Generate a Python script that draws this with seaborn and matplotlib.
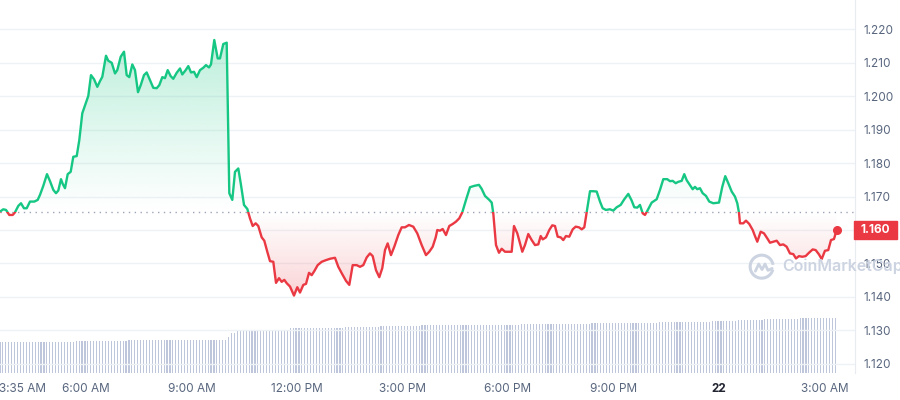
import numpy as np
import matplotlib
matplotlib.use("Agg")
import matplotlib.pyplot as plt
import matplotlib.transforms as mtransforms
import seaborn as sns
from matplotlib.colors import LinearSegmentedColormap, to_rgb
from matplotlib.path import Path
from matplotlib.patches import Rectangle, Arc
from matplotlib.lines import Line2D

sns.set_style("white")
plt.rcParams['font.family'] = ['Inter', 'DejaVu Sans']

# price over the last 24h, x = hours since midnight of the 21st
hours = [
    3.555, 3.649, 3.726, 3.819, 3.916, 3.982, 4.075, 4.152, 4.237, 4.314,
    4.408, 4.530, 4.627, 4.692, 4.786, 4.891, 4.977, 5.071, 5.147, 5.213,
    5.289, 5.338, 5.403, 5.480, 5.565, 5.639, 5.736, 5.810, 5.895, 5.992,
    6.066, 6.142, 6.228, 6.322, 6.398, 6.464, 6.569, 6.634, 6.731, 6.825,
    6.890, 6.987, 7.081, 7.157, 7.231, 7.317, 7.393, 7.479, 7.556, 7.649,
    7.726, 7.820, 7.914, 8.011, 8.084, 8.170, 8.246, 8.323, 8.408, 8.482,
    8.579, 8.673, 8.738, 8.835, 8.909, 8.986, 9.071, 9.148, 9.242, 9.335,
    9.412, 9.497, 9.554, 9.648, 9.745, 9.810, 9.904, 10.001, 10.075,
    10.160, 10.237, 10.331, 10.407, 10.493, 10.587, 10.663, 10.740, 10.825, 10.899,
    10.996, 11.070, 11.155, 11.232, 11.326, 11.403, 11.488, 11.565, 11.639, 11.707,
    11.801, 11.914, 12.008, 12.085, 12.179, 12.256, 12.341, 12.418, 12.491, 12.588,
    12.702, 12.824, 12.938, 13.080, 13.174, 13.271, 13.393, 13.487, 13.583, 13.697,
    13.791, 13.885, 13.982, 14.075, 14.152, 14.246, 14.340, 14.425, 14.502, 14.578,
    14.672, 14.766, 14.880, 14.976, 15.070, 15.184, 15.306, 15.420, 15.545, 15.667,
    15.761, 15.858, 15.944, 15.989, 16.066, 16.142, 16.236, 16.330, 16.427, 16.520,
    16.614, 16.700, 16.805, 16.919, 17.041, 17.174, 17.251, 17.345, 17.467, 17.536,
    17.581, 17.658, 17.743, 17.820, 17.914, 18.008, 18.104, 18.170, 18.264, 18.406,
    18.482, 18.576, 18.673, 18.767, 18.861, 18.929, 18.986, 19.079, 19.173, 19.258,
    19.335, 19.412, 19.498, 19.571, 19.648, 19.742, 19.839, 19.924, 20.018, 20.095,
    20.169, 20.237, 20.331, 20.425, 20.521, 20.615, 20.691, 20.785, 20.899, 20.993,
    21.090, 21.203, 21.306, 21.420, 21.516, 21.590, 21.675, 21.752, 21.829, 21.894,
    21.960, 22.085, 22.227, 22.321, 22.415, 22.528, 22.605, 22.682, 22.767, 22.841,
    22.938, 23.011, 23.080, 23.154, 23.250, 23.316, 23.381, 23.458, 23.535, 23.629,
    23.722, 23.836, 23.999, 24.092, 24.177, 24.263, 24.360, 24.453, 24.519, 24.567,
    24.595, 24.689, 24.766, 24.860, 24.957, 25.022, 25.088, 25.184, 25.278, 25.372,
    25.449, 25.542, 25.639, 25.733, 25.827, 25.923, 26.017, 26.111, 26.188, 26.273,
    26.367, 26.463, 26.557, 26.663, 26.748, 26.842, 26.918, 27.012, 27.106, 27.183,
    27.268, 27.345,
]
prices = [
    1.1655, 1.1662, 1.1660, 1.1645, 1.1645, 1.1653, 1.1672, 1.1680, 1.1665, 1.1665,
    1.1685, 1.1685, 1.1690, 1.1705, 1.1732, 1.1767, 1.1746, 1.1720, 1.1710, 1.1718,
    1.1752, 1.1738, 1.1725, 1.1767, 1.1774, 1.1819, 1.1821, 1.1869, 1.1949, 1.1979,
    1.2001, 1.2063, 1.2051, 1.2028, 1.2045, 1.2058, 1.2121, 1.2106, 1.2100, 1.2068,
    1.2078, 1.2118, 1.2133, 1.2063, 1.2057, 1.2095, 1.2078, 1.2012, 1.2033, 1.2063,
    1.2071, 1.2048, 1.2025, 1.2024, 1.2033, 1.2057, 1.2054, 1.2078, 1.2060, 1.2052,
    1.2070, 1.2083, 1.2065, 1.2078, 1.2090, 1.2071, 1.2073, 1.2057, 1.2078, 1.2085,
    1.2093, 1.2086, 1.2095, 1.2168, 1.2113, 1.2113, 1.2156, 1.2160, 1.1710,
    1.1690, 1.1774, 1.1784, 1.1735, 1.1675, 1.1663, 1.1635, 1.1612, 1.1620, 1.1612,
    1.1578, 1.1568, 1.1535, 1.1507, 1.1505, 1.1442, 1.1456, 1.1445, 1.1451, 1.1441,
    1.1431, 1.1404, 1.1429, 1.1413, 1.1436, 1.1439, 1.1472, 1.1465, 1.1477, 1.1495,
    1.1505, 1.1510, 1.1514, 1.1517, 1.1490, 1.1471, 1.1448, 1.1436, 1.1495, 1.1495,
    1.1490, 1.1495, 1.1518, 1.1530, 1.1522, 1.1480, 1.1459, 1.1486, 1.1540, 1.1560,
    1.1525, 1.1550, 1.1585, 1.1608, 1.1608, 1.1615, 1.1610, 1.1590, 1.1555, 1.1525,
    1.1535, 1.1550, 1.1578, 1.1600, 1.1598, 1.1603, 1.1585, 1.1612, 1.1618, 1.1625,
    1.1635, 1.1653, 1.1690, 1.1728, 1.1732, 1.1735, 1.1723, 1.1702, 1.1690, 1.1682,
    1.1650, 1.1555, 1.1532, 1.1544, 1.1535, 1.1535, 1.1535, 1.1612, 1.1590, 1.1535,
    1.1555, 1.1588, 1.1570, 1.1555, 1.1557, 1.1582, 1.1572, 1.1578, 1.1600, 1.1614,
    1.1612, 1.1580, 1.1578, 1.1570, 1.1582, 1.1580, 1.1602, 1.1610, 1.1608, 1.1602,
    1.1608, 1.1653, 1.1716, 1.1716, 1.1715, 1.1685, 1.1665, 1.1660, 1.1662, 1.1658,
    1.1668, 1.1675, 1.1692, 1.1708, 1.1688, 1.1668, 1.1667, 1.1675, 1.1650, 1.1645,
    1.1657, 1.1682, 1.1692, 1.1720, 1.1752, 1.1752, 1.1746, 1.1747, 1.1740, 1.1744,
    1.1747, 1.1767, 1.1749, 1.1737, 1.1722, 1.1729, 1.1722, 1.1725, 1.1710, 1.1702,
    1.1685, 1.1680, 1.1682, 1.1729, 1.1761, 1.1740, 1.1715, 1.1700, 1.1680, 1.1652,
    1.1620, 1.1620, 1.1628, 1.1618, 1.1600, 1.1582, 1.1565, 1.1595, 1.1590, 1.1575,
    1.1562, 1.1565, 1.1568, 1.1555, 1.1557, 1.1550, 1.1530, 1.1528, 1.1515, 1.1522,
    1.1520, 1.1522, 1.1532, 1.1542, 1.1540, 1.1527, 1.1513, 1.1538, 1.1540, 1.1570,
    1.1573, 1.1600,
]
open_price = 1.1654

# 24h volume (M USD), one bar per 5 minutes, stored as runs of equal height
vol_levels = [63.2, 65.2, 66.6, 73.2, 80.6, 84.6, 86.6, 90.0, 93.2, 95.2,
              96.6, 98.6, 101.2, 103.2, 105.2, 106.6, 108.0, 110.0, 111.2]
vol_runs = [26, 18, 34, 1, 2, 2, 16, 19, 12, 14, 34, 24, 23, 18, 9, 9, 12, 10, 3]

tick_hours = [6, 9, 12, 15, 18, 21, 24, 27]
tick_labels = ['6:00 AM', '9:00 AM', '12:00 PM', '3:00 PM', '6:00 PM', '9:00 PM', '22', '3:00 AM']
first_label = '3:35 AM'
price_ticks = [1.120, 1.130, 1.140, 1.150, 1.160, 1.170, 1.180, 1.190, 1.200, 1.210, 1.220]

GREEN = '#16c784'
RED = '#ea3943'
TXT = '#58667e'
GRID = '#eff2f5'

h = np.array(hours)
p = np.array(prices)
vol = np.repeat(vol_levels, vol_runs)
vol_x = h[0] + np.arange(len(vol)) / 12.0
last_label = f'{p[-1]:.3f}'

fig = plt.figure(figsize=(9, 4), dpi=100)
ax = fig.add_axes([0, 0.0667, 0.95, 0.9333])

# volume underneath
ax2 = ax.twinx()
ax2.bar(vol_x, vol, width=0.032, color='#bdc6da', linewidth=0)
ax2.set_ylim(0, 746)
ax2.axis('off')
ax.set_zorder(ax2.get_zorder() + 1)
ax.patch.set_visible(False)

# gradient fills above / below the open price
up = ax.fill_between(h, p, open_price, where=p >= open_price, interpolate=True,
                     facecolor='none', edgecolor='none')
dn = ax.fill_between(h, p, open_price, where=p <= open_price, interpolate=True,
                     facecolor='none', edgecolor='none')


def grad_fill(coll, color, y0, y1, ramp):
    r, g, b = to_rgb(color)
    cmap = LinearSegmentedColormap.from_list('fade', [(r, g, b, 0), (r, g, b, 1)])
    img = ax.imshow(ramp.reshape(-1, 1), cmap=cmap, vmin=0, vmax=1, aspect='auto',
                    origin='lower', extent=[h[0], h[-1], y0, y1], zorder=1.5,
                    interpolation='bilinear')
    img.set_clip_path(Path.make_compound_path(*coll.get_paths()), ax.transData)


grad_fill(up, GREEN, open_price, p.max(), np.linspace(0, 0.28, 256))
grad_fill(dn, RED, p.min(), open_price, np.linspace(0.22, 0, 256))

# line: green above open, red below
sns.lineplot(x=h, y=p, color=GREEN, lw=1.7, ax=ax, sort=False, estimator=None)
ax.lines[-1].set_clip_path(Rectangle((0, open_price), 40, 1, transform=ax.transData))
sns.lineplot(x=h, y=p, color=RED, lw=1.7, ax=ax, sort=False, estimator=None)
ax.lines[-1].set_clip_path(Rectangle((0, open_price - 1), 40, 1, transform=ax.transData))
ax.plot(h[-1], p[-1], 'o', color=RED, ms=5.5, zorder=5)

ax.axhline(open_price, color='#9ea5b8', lw=1, linestyle=(0, (1, 3.2)), zorder=1.6)

ax.set_xlim(h[0], 27.866)
ax.set_ylim(1.11716, 1.22876)

# axes styling
ax.set_yticks(price_ticks)
ax.yaxis.grid(True, color=GRID, lw=1)
ax.xaxis.grid(False)
ax.set_axisbelow(True)
ax.yaxis.tick_right()
# the 1.160 slot is taken by the current-price tag
ax.set_yticklabels(['' if f'{v:.3f}' == last_label else f'{v:.3f}' for v in price_ticks])
ax.tick_params(axis='y', length=0, pad=6, labelsize=8.5, labelcolor=TXT)
ax.set_xticks(tick_hours, tick_labels)
ax.tick_params(axis='x', length=3, width=0.8, color='#e3e6ed', pad=4,
               labelsize=8.5, labelcolor=TXT)
for lbl in ax.get_xticklabels():
    if lbl.get_text() == '22':
        lbl.set_fontweight('bold')
        lbl.set_color('#222531')
ax.annotate(first_label, xy=(h[0], 0), xycoords=('data', 'axes fraction'),
            xytext=(-1, -7), textcoords='offset points', ha='left', va='top',
            fontsize=8.5, color=TXT)
for side in ['top', 'left', 'bottom']:
    ax.spines[side].set_visible(False)
ax.spines['right'].set_color('#e8ebf0')
ax.set_xlabel('')
ax.set_ylabel('')

# current price tag
trans = mtransforms.blended_transform_factory(ax.transAxes, ax.transData)
tag_h = (1.22876 - 1.11716) * 18 / 373.3
ax.add_patch(Rectangle((0.9988, p[-1] - tag_h / 2), 0.0503, tag_h, transform=trans,
                       color=RED, clip_on=False, zorder=6))
ax.text(1.024, p[-1], last_label, transform=trans, color='white', fontweight='bold',
        ha='center', va='center', fontsize=8.5, clip_on=False, zorder=7)

# watermark
wm = '#cdd4e1'
fig.add_artist(Arc((0.8463, 0.3333), 23 / 900, 23 / 400, theta1=20, theta2=330,
                   transform=fig.transFigure, color=wm, lw=2.2, zorder=10))
fig.add_artist(Line2D([0.8393, 0.8430, 0.8467, 0.8500, 0.8533, 0.8580],
                      [0.3220, 0.3400, 0.3260, 0.3400, 0.3240, 0.3290],
                      transform=fig.transFigure, color=wm, lw=2.0, zorder=10))
fig.text(0.8689, 0.3333, 'CoinMarketCap', color=wm, fontsize=11.5,
         fontweight='semibold', va='center', ha='left', zorder=10)

fig.savefig('out.png', dpi=100)
